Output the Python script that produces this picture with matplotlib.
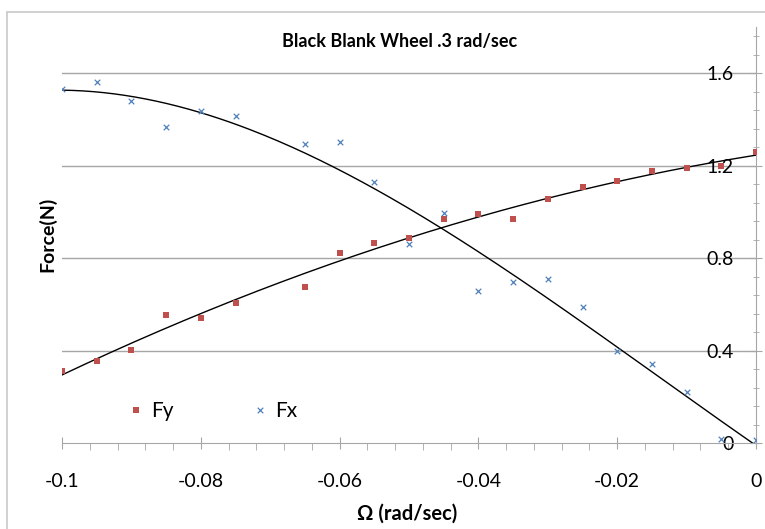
import numpy as np
import matplotlib
matplotlib.use("Agg")
import matplotlib.pyplot as plt
from matplotlib.patches import Rectangle
from matplotlib.ticker import MultipleLocator

plt.rcParams['font.family'] = ['Lato', 'DejaVu Sans']

# data (no point at -0.07)
omega = [-0.1, -0.095, -0.09, -0.085, -0.08, -0.075, -0.065, -0.06, -0.055, -0.05,
         -0.045, -0.04, -0.035, -0.03, -0.025, -0.02, -0.015, -0.01, -0.005, 0.0]
fy = [0.311, 0.355, 0.402, 0.553, 0.540, 0.605, 0.675, 0.820, 0.865, 0.886,
      0.969, 0.990, 0.969, 1.055, 1.107, 1.133, 1.176, 1.189, 1.198, 1.258]
fx = [1.531, 1.561, 1.479, 1.367, 1.436, 1.414, 1.293, 1.302, 1.129, 0.860,
      0.994, 0.657, 0.696, 0.709, 0.588, 0.398, 0.342, 0.221, 0.017, 0.013]

x_ticks = [-0.1, -0.08, -0.06, -0.04, -0.02, 0.0]
x_labels = ['-0.1', '-0.08', '-0.06', '-0.04', '-0.02', '0']
y_ticks = [0, 0.4, 0.8, 1.2, 1.6]
y_labels = ['0', '0.4', '0.8', '1.2', '1.6']

red = '#C0504D'
blue = '#4F81BD'
axis_gray = '#a6a6a6'

fig = plt.figure(figsize=(7.65, 5.29), dpi=100)
ax = fig.add_axes([62/765, 1 - 443/529, 694/765, 416/529])

# outer chart border
fig.patches.append(Rectangle((7/765, -0.2), 1.5, 1.2 - 12/529, transform=fig.transFigure,
                             fill=False, edgecolor='#c8c8c8', lw=1.2))

ax.scatter(omega, fy, marker='s', s=22, color=red, label='Fy', zorder=3, linewidths=0)
ax.scatter(omega, fx, marker='x', s=16, color=blue, label='Fx', zorder=3, linewidths=0.9)

# polynomial trend lines
xs = np.linspace(-0.1, 0, 200)
ax.plot(xs, np.polyval(np.polyfit(omega, fy, 2), xs), color='black', lw=1, zorder=2)
ax.plot(xs, np.polyval(np.polyfit(omega, fx, 3), xs), color='black', lw=1, zorder=2)

for v in y_ticks[1:]:
    ax.axhline(v, color=axis_gray, lw=1, zorder=1)

ax.spines['top'].set_visible(False)
ax.spines['left'].set_visible(False)
ax.spines['right'].set_color(axis_gray)
ax.spines['bottom'].set_color(axis_gray)

ax.set_xticks(x_ticks)
ax.set_xticklabels(x_labels)
ax.xaxis.set_minor_locator(MultipleLocator(0.004))
ax.set_yticks(y_ticks)
ax.set_yticklabels(y_labels)
ax.yaxis.set_minor_locator(MultipleLocator(0.08))
ax.set_xlim(-0.1, 0)
ax.set_ylim(0, 1.8)

ax.yaxis.tick_right()
ax.tick_params(axis='x', which='major', direction='inout', length=9, color=axis_gray,
               labelsize=14, pad=17)
ax.tick_params(axis='x', which='minor', direction='out', length=5, color=axis_gray)
ax.tick_params(axis='y', which='major', direction='inout', length=8, color=axis_gray,
               labelsize=14, pad=-20)
ax.tick_params(axis='y', which='minor', direction='inout', length=5, color=axis_gray)
for lab in ax.get_yticklabels():
    lab.set_horizontalalignment('right')

fig.text(400/765, 1 - 41/529, 'Black Blank Wheel .3 rad/sec', ha='center', va='center',
         fontsize=13, fontweight='bold')
fig.text(407/765, 1 - 514/529, 'Ω (rad/sec)', ha='center', va='center',
         fontsize=14.5, fontweight='bold')
fig.text(47/765, 1 - 234/529, 'Force(N)', ha='center', va='center', rotation=90,
         fontsize=14, fontweight='bold')

ax.legend(loc='center left', bbox_to_anchor=(0.0916, 0.077), ncol=2, frameon=False,
          fontsize=15, columnspacing=3.6, handletextpad=0.25, handlelength=1.0,
          borderpad=0, borderaxespad=0, scatteryoffsets=[0.5])

fig.savefig('out.png', dpi=100)
